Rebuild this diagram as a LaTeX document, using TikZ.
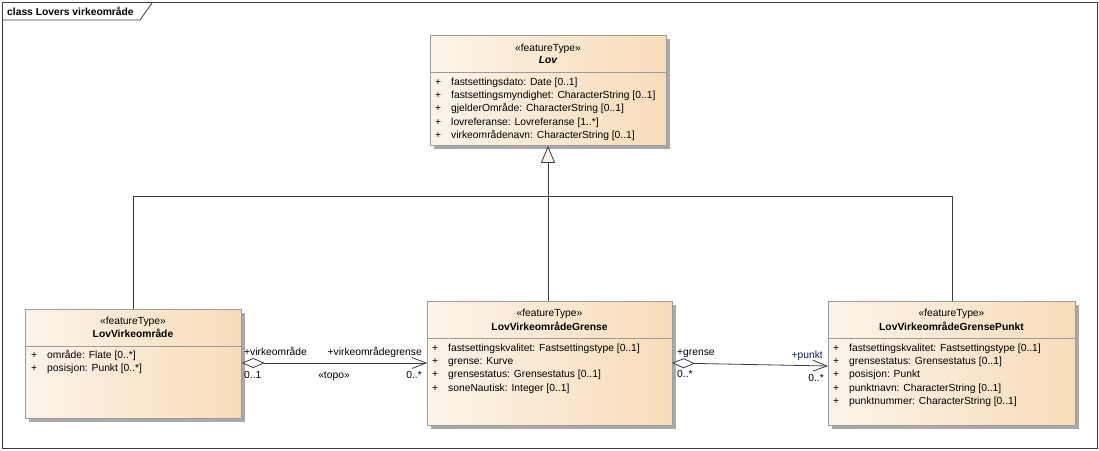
\documentclass[tikz,border=0pt]{standalone}
\usepackage{fontspec}
\setmainfont{Liberation Sans}
\usetikzlibrary{arrows.meta,shadows}
\definecolor{boxL}{HTML}{FCF4EA}
\definecolor{boxR}{HTML}{F7DCB8}
\definecolor{boxB}{HTML}{9C9C9C}
\definecolor{shd}{HTML}{A9A9A9}
\definecolor{lnC}{HTML}{3C3C3C}
\definecolor{roleB}{HTML}{1A1A6E}
\newcommand\umlfont{\fontsize{10.3}{13.2}\selectfont}
\tikzset{
  classbox/.style={draw=boxB, line width=0.8pt, left color=boxL, right color=boxR,
    anchor=north west, inner sep=0pt,
    drop shadow={shadow xshift=3.5pt, shadow yshift=-3.5pt, fill=shd, opacity=1}},
  sepline/.style={draw=boxB, line width=0.8pt},
  txt/.style={font=\umlfont, inner sep=0pt, text=black},
  attrs/.style={txt, anchor=base west},
  conn/.style={draw=lnC, line width=0.8pt},
  genarrow/.style={conn, -{Triangle[open, length=17pt, width=14pt, fill=boxL]}},
  assoc/.style={conn, {Diamond[open, length=23pt, width=10pt, fill=white]}-{Straight Barb[length=14pt, width=11pt]}},
}
\newcommand\attrtab[1]{\begin{tabular}[t]{@{}l@{\hspace{10pt}}l@{}}#1\end{tabular}}
\begin{document}
\begin{tikzpicture}[x=1pt,y=-1pt]
\useasboundingbox (0,0) rectangle (1099,450);
\fill[white] (0,0) rectangle (1099,450);
% frame
\draw[draw=lnC, line width=0.8pt] (2,2) rectangle (1097,448);
\draw[draw=lnC, line width=0.8pt] (2,20) -- (140,20) -- (152,3);
\node[txt, font=\umlfont\bfseries, anchor=base west] (title) at (7,15) {class Lovers virkeområde};

% Lov
\node[classbox, minimum width=236pt, minimum height=110pt] (lov) at (430,35) {};
\draw[sepline] (430,72) -- (666,72);
\node[txt, anchor=base] (lovst) at (548,51) {«featureType»};
\node[txt, anchor=base, font=\umlfont\bfseries\itshape] (lovn) at (548,63.5) {Lov};
\node[attrs] (lova) at (435,85.5) {\attrtab{+ & fastsettingsdato: Date [0..1]\\
+ & fastsettingsmyndighet: CharacterString [0..1]\\
+ & gjelderOmråde: CharacterString [0..1]\\
+ & lovreferanse: Lovreferanse [1..*]\\
+ & virkeområdenavn: CharacterString [0..1]}};

% LovVirkeområde
\node[classbox, minimum width=216pt, minimum height=109pt] (lva) at (25,309) {};
\draw[sepline] (25,346) -- (241,346);
\node[txt, anchor=base] (lvast) at (133,324) {«featureType»};
\node[txt, anchor=base, font=\umlfont\bfseries] (lvan) at (133,337.5) {LovVirkeområde};
\node[attrs] (lvaa) at (31,358.5) {\attrtab{+ & område: Flate [0..*]\\
+ & posisjon: Punkt [0..*]}};

% LovVirkeområdeGrense
\node[classbox, minimum width=245pt, minimum height=124pt] (lvg) at (427,301) {};
\draw[sepline] (427,338) -- (672,338);
\node[txt, anchor=base] (lvgst) at (549.5,316.5) {«featureType»};
\node[txt, anchor=base, font=\umlfont\bfseries] (lvgn) at (549.5,330) {LovVirkeområdeGrense};
\node[attrs] (lvga) at (432,351.5) {\attrtab{+ & fastsettingskvalitet: Fastsettingstype [0..1]\\
+ & grense: Kurve\\
+ & grensestatus: Grensestatus [0..1]\\
+ & soneNautisk: Integer [0..1]}};

% LovVirkeområdeGrensePunkt
\node[classbox, minimum width=247pt, minimum height=124pt] (lvp) at (828,301) {};
\draw[sepline] (828,338) -- (1075,338);
\node[txt, anchor=base] (lvpst) at (951.5,316.5) {«featureType»};
\node[txt, anchor=base, font=\umlfont\bfseries] (lvpn) at (951.5,330) {LovVirkeområdeGrensePunkt};
\node[attrs] (lvpa) at (833,351.5) {\attrtab{+ & fastsettingskvalitet: Fastsettingstype [0..1]\\
+ & grensestatus: Grensestatus [0..1]\\
+ & posisjon: Punkt\\
+ & punktnavn: CharacterString [0..1]\\
+ & punktnummer: CharacterString [0..1]}};

% generalization
\coordinate (gj) at (548,196);
\draw[conn] (lva.north) |- (gj);
\draw[conn] (lvp.north) |- (gj);
\draw[genarrow] (lvg.north -| gj) -- (gj |- lov.south);

% associations
\draw[assoc] (lva.east |- 0,363) -- (lvg.west |- 0,363);
\node[txt, anchor=base west] (r1a) at (244,355.5) {+virkeområde};
\node[txt, anchor=base west] (m1a) at (244,378.5) {0..1};
\node[txt, anchor=base east] (r1b) at (422,355.5) {+virkeområdegrense};
\node[txt, anchor=base east] (m1b) at (422,378.5) {0..*};
\node[txt, anchor=base] (st1) at (334,378.5) {«topo»};

\coordinate (a2s) at (672,363);
\coordinate (a2e) at (828,366);
\draw[assoc] (a2s) -- (a2e);
\node[txt, anchor=base west] (r2a) at (677,355.5) {+grense};
\node[txt, anchor=base west] (m2a) at (677,377.5) {0..*};
\node[txt, anchor=base east, text=roleB] (r2b) at (823,358.5) {+punkt};
\node[txt, anchor=base east] (m2b) at (824,381.5) {0..*};
\end{tikzpicture}
\end{document}
